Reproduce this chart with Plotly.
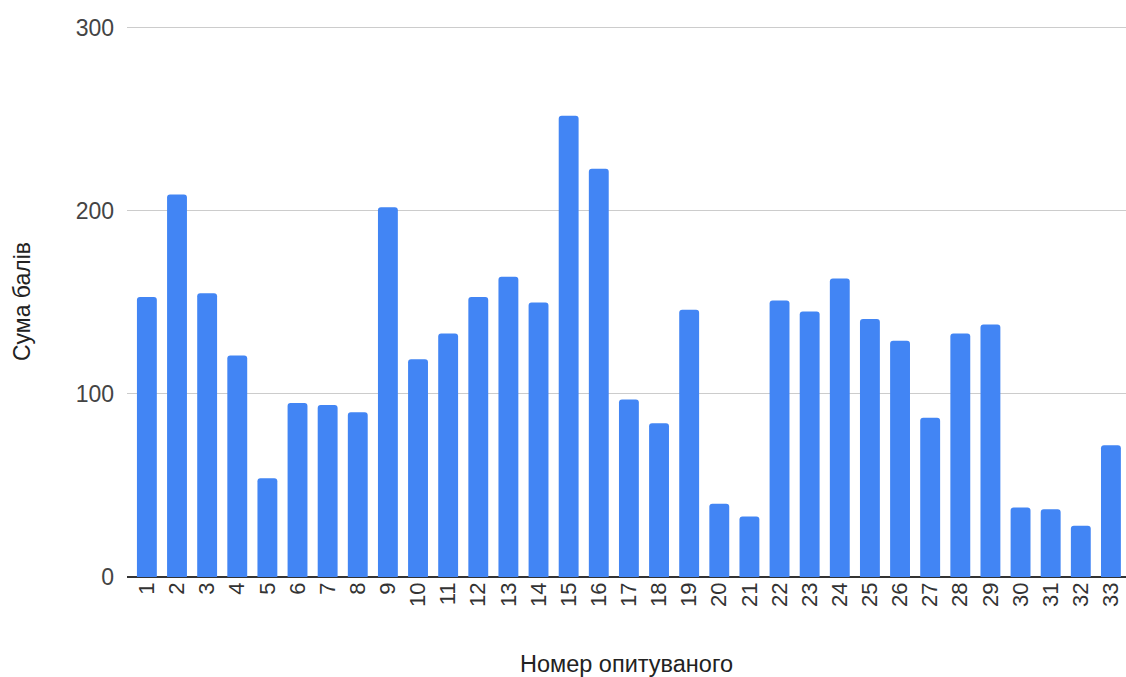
import plotly.graph_objects as go

# Respondent numbers and their total scores
respondents = [str(i) for i in range(1, 34)]
scores = [153, 209, 155, 121, 54, 95, 94, 90, 202, 119,
          133, 153, 164, 150, 252, 223, 97, 84, 146, 40,
          33, 151, 145, 163, 141, 129, 87, 133, 138, 38,
          37, 28, 72]

y_ticks = [0, 100, 200, 300]

fig = go.Figure(
    go.Bar(
        x=respondents,
        y=scores,
        marker=dict(color="#4285F4", line=dict(width=0)),
    )
)

fig.update_layout(
    width=1126,
    height=677,
    margin=dict(l=127, r=0, t=26, b=100),
    paper_bgcolor="white",
    plot_bgcolor="white",
    bargap=0.34,
    barcornerradius=3,
    showlegend=False,
    font=dict(family="Arial, 'Liberation Sans', sans-serif", color="#444444"),
)

fig.update_xaxes(
    type="category",
    range=[-0.66, 32.5],
    tickangle=-90,
    tickfont=dict(size=22, color="#333333"),
    showgrid=False,
    showline=False,
    ticks="",
    title=dict(text="Номер опитуваного", font=dict(size=23.5, color="#222222"), standoff=50),
)

fig.update_yaxes(
    range=[0, 301],
    tickvals=y_ticks,
    tickfont=dict(size=23, color="#444444"),
    showgrid=True,
    gridcolor="#cccccc",
    gridwidth=1,
    zeroline=True,
    zerolinecolor="#333333",
    zerolinewidth=2,
    ticks="",
    ticklabelstandoff=12,
    title=dict(text="Сума балів", font=dict(size=23, color="#222222"), standoff=38),
)

fig.write_html("out.html")
